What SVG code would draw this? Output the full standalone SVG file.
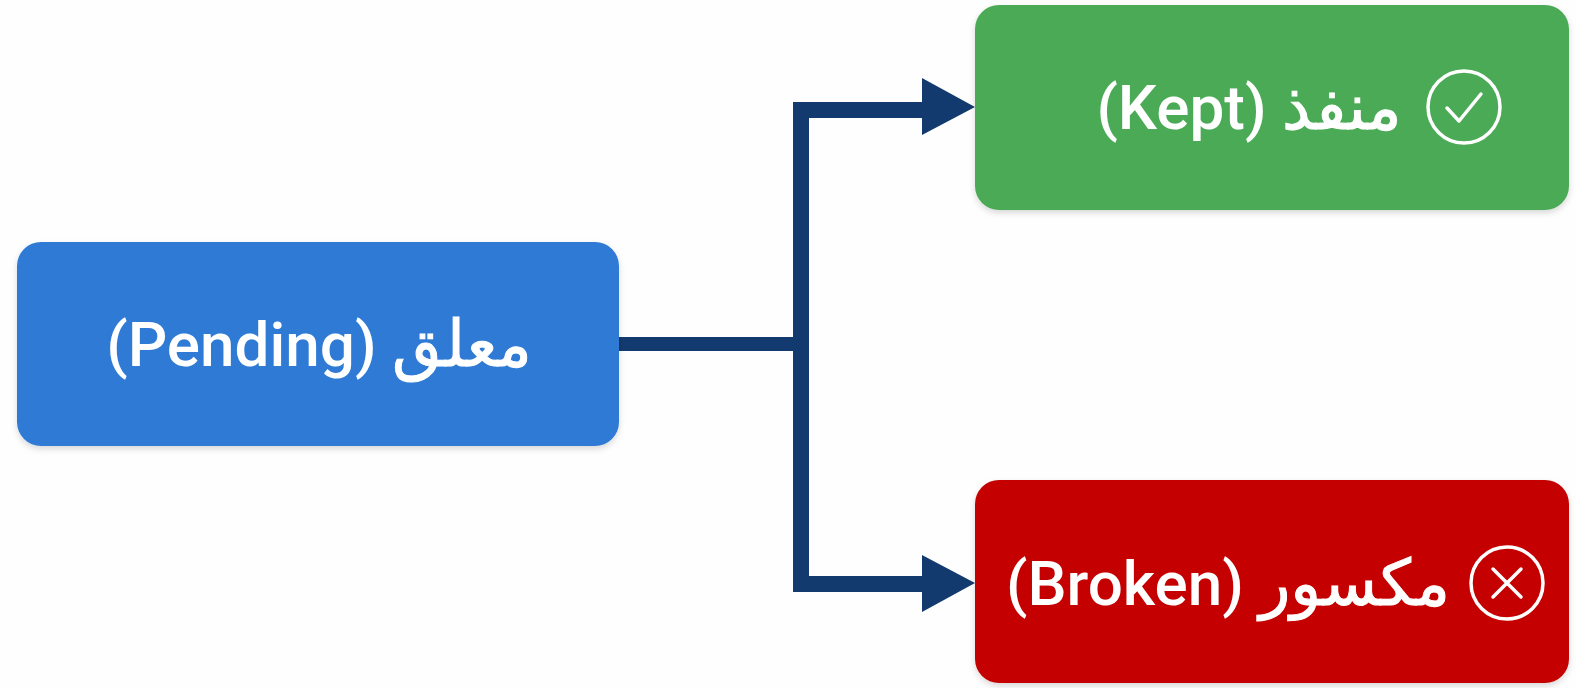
<svg xmlns="http://www.w3.org/2000/svg" width="1576" height="688" viewBox="0 0 1576 688">
<defs>
<filter id="sh" x="-5%" y="-10%" width="110%" height="125%">
<feDropShadow dx="0" dy="3" stdDeviation="3" flood-color="#000" flood-opacity="0.15"/>
</filter>
</defs>
<style>
.lbl{font-family:Roboto,"Open Sans","DejaVu Sans",sans-serif;font-weight:500;font-size:62px;fill:#fff;text-anchor:middle;dominant-baseline:central}
.ar{font-family:"DejaVu Sans",sans-serif;font-weight:normal;font-size:64px;stroke:#fff;stroke-width:1}
.icon{fill:none;stroke:#fff;stroke-width:3.5;stroke-linecap:round;stroke-linejoin:round}
.conn{fill:none;stroke:#133A6E;stroke-linejoin:miter}
.head{fill:#133A6E}
</style>
<rect width="1576" height="688" fill="#fefefe"/>
<g id="connectors">
<line class="conn" x1="618" y1="344" x2="801" y2="344" stroke-width="14"/>
<polyline class="conn" points="930,110 801,110 801,584 930,584" stroke-width="16"/>
<polygon class="head" points="922,78 975,107 922,135"/>
<polygon class="head" points="922,555 975,583 922,612"/>
</g>
<g id="pending">
<rect x="17" y="242" width="602" height="204" rx="24" fill="#2E7AD4" filter="url(#sh)"/>
<text class="lbl" x="319" y="344">(Pending) <tspan class="ar">معلق</tspan></text>
</g>
<g id="kept">
<rect x="975" y="5" width="594" height="205" rx="24" fill="#4BAA55" filter="url(#sh)"/>
<text class="lbl" x="1249" y="107">(Kept) <tspan class="ar">منفذ</tspan></text>
<circle class="icon" cx="1464" cy="107" r="36"/>
<polyline class="icon" points="1447,108 1459,121 1481,94"/>
</g>
<g id="broken">
<rect x="975" y="480" width="594" height="203" rx="24" fill="#C50606" filter="url(#sh)"/>
<text class="lbl" x="1228" y="583">(Broken) <tspan class="ar">مكسور</tspan></text>
<circle class="icon" cx="1507" cy="583" r="36"/>
<path class="icon" d="M1493,569 L1521,597 M1521,569 L1493,597"/>
</g>
</svg>
